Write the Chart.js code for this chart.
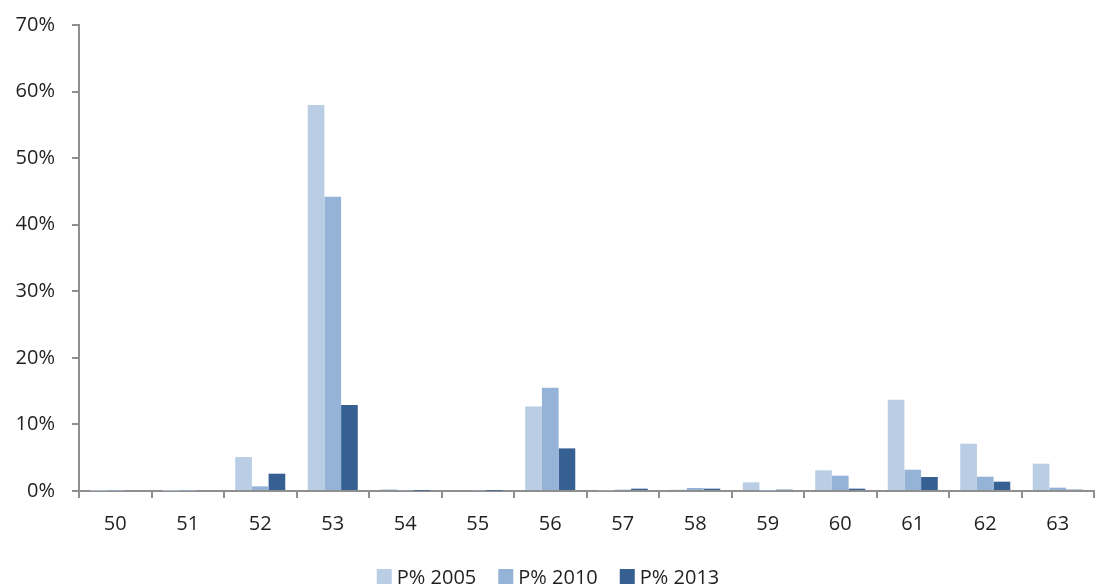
<!DOCTYPE html>
<html>
<head>
<meta charset="utf-8">
<script src="https://cdn.jsdelivr.net/npm/chart.js@4/dist/chart.umd.min.js"></script>
<style>
  html, body { margin: 0; padding: 0; background: #fff; }
  #wrap { width: 1096px; height: 586px; position: relative; }
</style>
</head>
<body>
<div id="wrap"><canvas id="c" width="1096" height="586"></canvas></div>
<script>
// Categories along the x axis
const categories = ['50', '51', '52', '53', '54', '55', '56', '57', '58', '59', '60', '61', '62', '63'];

// Share per category (%)
const p2005 = [0.05, 0.05, 5.1, 58.0, 0.25, 0.15, 12.7, 0.1, 0.2, 1.3, 3.1, 13.7, 7.1, 4.1];
const p2010 = [0.05, 0.05, 0.7, 44.2, 0.1, 0.1, 15.5, 0.2, 0.45, 0.05, 2.3, 3.2, 2.15, 0.5];
const p2013 = [0.0, 0.0, 2.6, 12.9, 0.05, 0.05, 6.4, 0.35, 0.35, 0.2, 0.35, 2.1, 1.4, 0.2];

const seriesLabels = ['P% 2005', 'P% 2010', 'P% 2013'];
const seriesColors = ['#b9cde5', '#95b3d7', '#366092'];
const yTicks = [0, 10, 20, 30, 40, 50, 60, 70];

const axisColor = '#8f8f8f';
const textColor = '#231f20';
const fontFamily = '"Open Sans", "Noto Sans", sans-serif';
const fontSize = 20;

Chart.defaults.font.family = fontFamily;
Chart.defaults.color = textColor;

// Legend row drawn under the x axis: square swatch + label, centred as a group
const bottomLegend = {
  id: 'bottomLegend',
  afterDraw(chart) {
    const ctx = chart.ctx;
    const box = 15, gapText = 5, gapItem = 22;
    ctx.save();
    ctx.font = fontSize + 'px ' + fontFamily;
    ctx.textBaseline = 'alphabetic';
    ctx.textAlign = 'left';
    const items = chart.data.datasets.map(ds => ({
      label: ds.label, color: ds.backgroundColor, w: ctx.measureText(ds.label).width
    }));
    const total = items.reduce((s, it) => s + box + gapText + it.w, 0) + gapItem * (items.length - 1);
    let x = (chart.width - total) / 2;
    const baseY = 584;
    items.forEach(it => {
      ctx.fillStyle = it.color;
      ctx.fillRect(x, baseY - box, box, box);
      x += box + gapText;
      ctx.fillStyle = textColor;
      ctx.fillText(it.label, x, baseY);
      x += it.w + gapItem;
    });
    ctx.restore();
  }
};

new Chart(document.getElementById('c'), {
  type: 'bar',
  data: {
    labels: categories,
    datasets: seriesLabels.map((lab, i) => ({
      label: lab,
      data: [p2005, p2010, p2013][i],
      backgroundColor: seriesColors[i]
    }))
  },
  options: {
    responsive: false,
    animation: false,
    layout: { padding: { top: 25, right: 2, left: 0, bottom: 47 } },
    datasets: {
      bar: { categoryPercentage: 0.69, barPercentage: 1.0, borderWidth: 0 }
    },
    plugins: {
      legend: { display: false },
      tooltip: { enabled: false }
    },
    scales: {
      x: {
        grid: {
          display: true,
          drawOnChartArea: false,
          drawTicks: true,
          tickLength: 7,
          color: axisColor,
          lineWidth: 2,
          offset: true
        },
        border: { display: true, color: axisColor, width: 2 },
        ticks: {
          color: textColor,
          font: { size: fontSize, family: fontFamily },
          padding: 14,
          maxRotation: 0
        },
        afterFit: (axis) => { axis.height = 48; }
      },
      y: {
        min: 0,
        max: 70,
        afterBuildTicks: (axis) => { axis.ticks = yTicks.map(v => ({ value: v })); },
        grid: {
          display: true,
          drawOnChartArea: false,
          drawTicks: true,
          tickLength: 7,
          color: axisColor,
          lineWidth: 2
        },
        border: { display: true, color: axisColor, width: 2 },
        ticks: {
          color: textColor,
          font: { size: fontSize, family: fontFamily },
          padding: 17,
          callback: (v) => v + '%'
        },
        afterFit: (axis) => {
          axis.width = 79;
          axis.paddingTop = 0;
          axis.paddingBottom = 0;
        }
      }
    }
  },
  plugins: [bottomLegend]
});
</script>
</body>
</html>
